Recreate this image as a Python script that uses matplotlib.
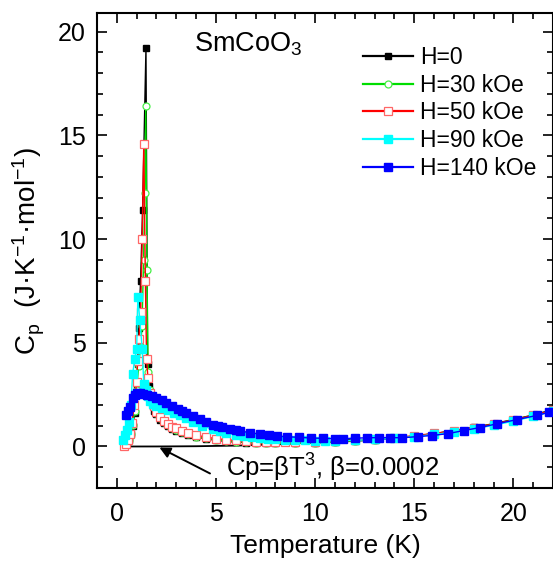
import numpy as np
import matplotlib.pyplot as plt
from matplotlib.ticker import MultipleLocator

plt.rcParams['font.family'] = ['Liberation Sans', 'DejaVu Sans']
plt.rcParams['mathtext.fontset'] = 'custom'
plt.rcParams['mathtext.rm'] = 'Liberation Sans'
plt.rcParams['mathtext.it'] = 'Liberation Sans:italic'

# ---- data ----
T_h0 = [0.4, 0.5, 0.6, 0.7, 0.8, 0.9, 1.0, 1.05, 1.1, 1.2, 1.3, 1.47, 1.55, 1.6, 1.7, 1.8,
        1.9, 2.0, 2.2, 2.4, 2.6, 2.8, 3.0, 3.3, 3.6, 4.0, 4.5, 5.0, 5.5, 6.0, 6.5, 7.0,
        7.5, 8.0, 9.0, 10.0, 11.0, 12.0, 13.0, 14.0, 15.0, 16.0, 17.0, 18.0, 19.0, 20.0,
        21.0, 22.0]
cp_h0 = [0.05, 0.15, 0.3, 0.6, 1.0, 1.6, 2.8, 4.0, 5.7, 8.0, 11.4, 19.2, 4.0, 2.9, 2.3, 1.95,
         1.7, 1.55, 1.3, 1.12, 0.98, 0.86, 0.76, 0.64, 0.55, 0.46, 0.37, 0.3, 0.25, 0.21, 0.19, 0.17,
         0.16, 0.15, 0.15, 0.17, 0.21, 0.26, 0.32, 0.4, 0.5, 0.62, 0.76, 0.92, 1.1, 1.3,
         1.52, 1.78]

T_h30 = [0.4, 0.5, 0.6, 0.7, 0.8, 0.9, 1.0, 1.1, 1.2, 1.27, 1.35, 1.41, 1.46, 1.52, 1.58, 1.65,
         1.75, 1.85, 2.0, 2.2, 2.4, 2.6, 2.8, 3.0, 3.3, 3.6, 4.0, 4.5, 5.0, 5.5, 6.0, 6.5,
         7.0, 7.5, 8.0, 9.0, 10.0, 11.0, 12.0, 13.0, 14.0, 15.0, 16.0, 17.0, 18.0, 19.0,
         20.0, 21.0, 22.0]
cp_h30 = [0.05, 0.15, 0.32, 0.62, 1.05, 1.7, 2.7, 3.9, 4.8, 5.8, 9.0, 12.2, 16.4, 8.5, 3.6, 2.7,
          2.2, 1.9, 1.62, 1.36, 1.17, 1.02, 0.9, 0.8, 0.68, 0.58, 0.48, 0.39, 0.32, 0.27, 0.23, 0.2,
          0.18, 0.17, 0.16, 0.16, 0.18, 0.22, 0.27, 0.33, 0.41, 0.5, 0.62, 0.75, 0.9, 1.08,
          1.28, 1.5, 1.75]

T_h50 = [0.35, 0.45, 0.55, 0.65, 0.76, 0.88, 1.0, 1.05, 1.12, 1.2, 1.28, 1.36, 1.44, 1.5, 1.57,
         1.65, 1.75, 1.85, 2.0, 2.2, 2.4, 2.6, 2.8, 3.0, 3.3, 3.6, 4.0, 4.5, 5.0, 5.5, 6.0,
         6.5, 7.0, 7.5, 8.0, 8.5, 9.0, 10.0, 11.0, 12.0, 13.0, 14.0, 15.0, 16.0, 17.0, 18.0,
         19.0, 20.0, 21.0, 22.0]
cp_h50 = [0.03, 0.12, 0.3, 0.6, 1.15, 2.0, 3.1, 4.1, 5.2, 6.5, 10.0, 14.6, 8.0, 4.2, 3.3,
          2.6, 2.2, 1.95, 1.68, 1.42, 1.23, 1.08, 0.96, 0.87, 0.75, 0.65, 0.55, 0.45, 0.38, 0.33, 0.29,
          0.26, 0.24, 0.23, 0.22, 0.22, 0.22, 0.23, 0.26, 0.3, 0.35, 0.43, 0.52, 0.63, 0.76, 0.91,
          1.08, 1.28, 1.5, 1.75]

T_h90 = [0.3, 0.4, 0.5, 0.6, 0.7, 0.8, 0.9, 1.0, 1.06, 1.16, 1.28, 1.36, 1.45, 1.55, 1.67, 1.8,
         2.0, 2.3, 2.6, 2.9, 3.2, 3.5, 3.85, 4.3, 4.85, 5.2, 5.5, 6.0, 6.4, 6.8, 7.2, 7.6,
         8.0, 8.5, 9.0, 9.5, 10.0, 10.5, 11.0, 12.0, 13.0, 14.0, 15.0, 16.0, 17.0, 18.0,
         19.0, 20.0, 21.0, 22.0]
cp_h90 = [0.3, 0.55, 0.8, 1.2, 2.0, 3.5, 4.2, 4.7, 7.2, 6.1, 4.7, 3.0, 2.7, 2.45, 2.2, 2.05,
          1.95, 1.85, 1.75, 1.6, 1.5, 1.35, 1.2, 1.0, 0.82, 0.73, 0.65, 0.57, 0.5, 0.45, 0.4, 0.37,
          0.35, 0.33, 0.31, 0.3, 0.28, 0.28, 0.28, 0.3, 0.34, 0.4, 0.48, 0.58, 0.7, 0.85,
          1.02, 1.22, 1.45, 1.7]

T_h140 = [0.45, 0.55, 0.66, 0.8, 0.9, 1.0, 1.15, 1.3, 1.5, 1.75, 2.0, 2.27, 2.5, 2.8, 3.1,
          3.3, 3.5, 3.85, 4.2, 4.5, 4.85, 5.1, 5.3, 5.7, 6.0, 6.2, 6.7, 7.2, 7.7, 8.1, 8.6,
          9.2, 9.8, 10.4, 11.0, 11.4, 12.0, 12.6, 13.2, 13.8, 14.4, 15.2, 15.9, 16.7, 17.5,
          18.3, 19.2, 20.2, 21.2, 21.8]
cp_h140 = [1.5, 1.7, 1.9, 2.35, 2.5, 2.6, 2.6, 2.55, 2.5, 2.42, 2.35, 2.26, 2.12, 1.97, 1.82,
           1.72, 1.63, 1.47, 1.32, 1.18, 1.05, 0.98, 0.93, 0.84, 0.78, 0.75, 0.67, 0.6, 0.54, 0.5,
           0.47, 0.44, 0.41, 0.39, 0.38, 0.38, 0.4, 0.42, 0.43, 0.43, 0.42, 0.48, 0.53, 0.62,
           0.77, 0.91, 1.1, 1.3, 1.5, 1.65]

# Cp = beta*T^3 line (beta = 0.0002), only the low-T part is visible
T_fit = [0.3, 2.0, 4.0, 6.0, 8.0, 10.0, 12.0]
cp_fit = [0.0, 0.002, 0.013, 0.043, 0.10, 0.2, 0.35]

fig = plt.figure(figsize=(5.53, 5.62), dpi=100)
ax = fig.add_axes([0.1754, 0.1317, 0.8246, 0.8452])

ax.plot(T_fit, cp_fit, color='black', lw=1.3, zorder=1)

ax.plot(T_h0, cp_h0, '-s', color='black', lw=1.0, ms=4.5, mfc='black', mec='black',
        label='H=0', zorder=2)
ax.plot(T_h30, cp_h30, '-o', color='#00dd00', lw=1.0, ms=5, mfc='white', mec='#44ee44',
        mew=0.9, label='H=30 kOe', zorder=3)
ax.plot(T_h50, cp_h50, '-s', color='#ff0000', lw=1.0, ms=5.5, mfc='white', mec='#ff6666',
        mew=0.9, label='H=50 kOe', zorder=4)
ax.plot(T_h90, cp_h90, '-s', color='#00ffff', lw=1.0, ms=6, mfc='#00ffff', mec='#00ffff',
        label='H=90 kOe', zorder=5)
ax.plot(T_h140, cp_h140, '-s', color='#0000ff', lw=1.0, ms=6, mfc='#0000ff', mec='#0000ff',
        label='H=140 kOe', zorder=6)

ax.set_xlim(-1, 22)
ax.set_ylim(-2, 20.9)
ax.xaxis.set_major_locator(MultipleLocator(5))
ax.xaxis.set_minor_locator(MultipleLocator(1))
ax.yaxis.set_major_locator(MultipleLocator(5))
ax.yaxis.set_minor_locator(MultipleLocator(1))
ax.tick_params(which='both', direction='in', top=True, right=True, labelsize=18, width=1.2)
ax.tick_params(which='major', length=7)
ax.tick_params(axis='y', which='both', pad=8)
ax.tick_params(axis='x', which='both', pad=10)
ax.tick_params(which='minor', length=4)
for sp in ax.spines.values():
    sp.set_linewidth(1.5)

ax.set_xlabel('Temperature (K)', fontsize=19, labelpad=6)
ax.set_ylabel('C$_\\mathrm{p}$  (J·K$^{-1}$·mol$^{-1}$)', fontsize=20, labelpad=8)

ax.text(3.9, 19.4, 'SmCoO$_3$', fontsize=19.5, va='center', ha='left')

ax.annotate('', xy=(2.15, -0.05), xytext=(4.7, -1.3),
            arrowprops=dict(arrowstyle='-|>', color='black', lw=1.4, shrinkA=0,
                            shrinkB=0, mutation_scale=16))
ax.text(5.5, -1.05, 'Cp=βT$^3$, β=0.0002', fontsize=18.5, va='center', ha='left')

leg = ax.legend(loc='upper left', bbox_to_anchor=(0.583, 0.93), frameon=False, fontsize=16.5,
                handlelength=2.2, handletextpad=0.3, labelspacing=0.2, borderaxespad=0.0,
                borderpad=0.0)
for ln in leg.get_lines():
    ln.set_linewidth(1.6)

fig.savefig('out.png', dpi=100)
